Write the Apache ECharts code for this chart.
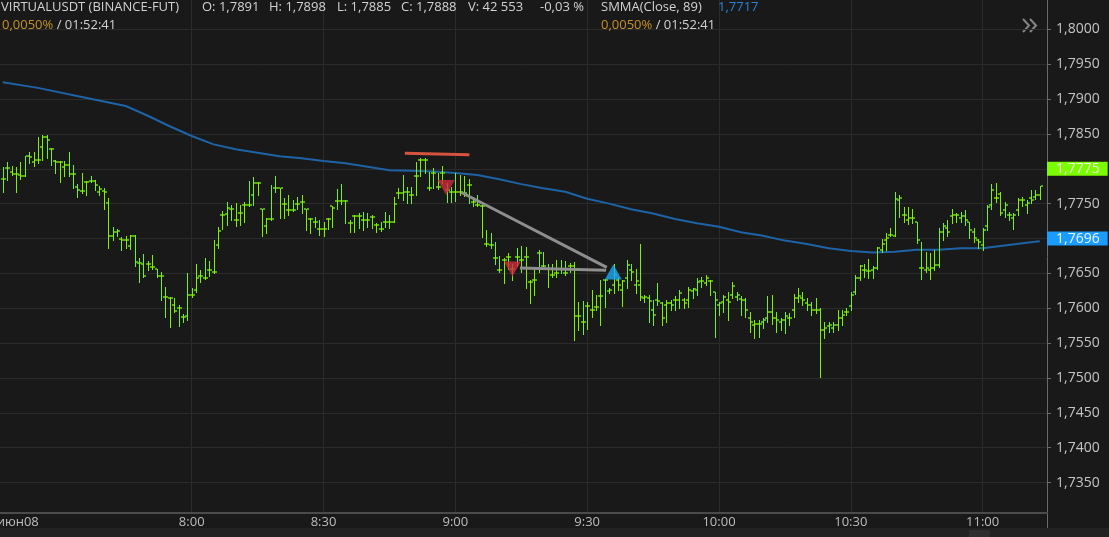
<!DOCTYPE html>
<html><head><meta charset="utf-8">
<script src="https://cdn.jsdelivr.net/npm/echarts@6/dist/echarts.min.js"></script>
<style>html,body{margin:0;padding:0;background:#191919;overflow:hidden}#c{width:1109px;height:537px}</style>
</head><body><div id="c"></div><script>
// ---------------- DATA ----------------
const firstBarMinute = 437; // 07:17, one bar per minute
const open = [1.7785,1.7801,1.7796,1.7793,1.7791,1.7790,1.7819,1.7810,1.7813,1.7831,1.7846,1.7828,1.7811,1.7810,1.7802,1.7806,1.7793,1.7774,1.7768,1.7781,
1.7782,1.7782,1.7767,1.7768,1.7751,1.7704,1.7709,1.7699,1.7698,1.7689,1.7704,1.7665,1.7664,1.7663,1.7659,1.7656,1.7646,1.7616,1.7615,1.7605,
1.7601,1.7587,1.7589,1.7619,1.7626,1.7646,1.7644,1.7655,1.7652,1.7691,1.7734,1.7735,1.7743,1.7727,1.7737,1.7748,1.7748,1.7762,1.7780,1.7742,
1.7718,1.7728,1.7772,1.7772,1.7749,1.7741,1.7741,1.7750,1.7753,1.7742,1.7728,1.7724,1.7713,1.7713,1.7728,1.7746,1.7754,1.7754,1.7754,1.7722,
1.7732,1.7732,1.7727,1.7727,1.7731,1.7719,1.7713,1.7724,1.7724,1.7724,1.7765,1.7765,1.7767,1.7762,1.7789,1.7813,1.7813,1.7772,1.7794,1.7774,
1.7794,1.7770,1.7767,1.7767,1.7767,1.7765,1.7777,1.7753,1.7748,1.7746,1.7692,1.7691,1.7672,1.7655,1.7669,1.7673,1.7656,1.7673,1.7669,1.7674,
1.7638,1.7641,1.7679,1.7661,1.7657,1.7648,1.7650,1.7657,1.7650,1.7660,1.7660,1.7589,1.7581,1.7603,1.7597,1.7602,1.7617,1.7641,1.7625,1.7633,
1.7641,1.7626,1.7644,1.7655,1.7633,1.7633,1.7615,1.7615,1.7597,1.7612,1.7608,1.7605,1.7608,1.7612,1.7612,1.7612,1.7612,1.7625,1.7626,1.7639,
1.7636,1.7639,1.7623,1.7605,1.7609,1.7612,1.7619,1.7616,1.7613,1.7612,1.7586,1.7576,1.7578,1.7580,1.7586,1.7595,1.7586,1.7580,1.7583,1.7586,
1.7597,1.7615,1.7615,1.7608,1.7605,1.7597,1.7597,1.7569,1.7575,1.7572,1.7576,1.7586,1.7595,1.7603,1.7623,1.7643,1.7655,1.7653,1.7655,1.7658,
1.7684,1.7698,1.7705,1.7704,1.7755,1.7734,1.7727,1.7730,1.7724,1.7658,1.7655,1.7655,1.7658,1.7662,1.7709,1.7715,1.7732,1.7734,1.7730,1.7732,
1.7723,1.7709,1.7698,1.7691,1.7718,1.7748,1.7758,1.7764,1.7741,1.7734,1.7730,1.7741,1.7755,1.7748,1.7758,1.7760,1.7762];
const high = [1.7802,1.7810,1.7804,1.7803,1.7810,1.7819,1.7824,1.7824,1.7845,1.7848,1.7849,1.7830,1.7813,1.7811,1.7811,1.7824,1.7806,1.7778,1.7794,1.7782,
1.7789,1.7784,1.7776,1.7772,1.7758,1.7716,1.7713,1.7702,1.7704,1.7705,1.7705,1.7672,1.7678,1.7668,1.7676,1.7657,1.7652,1.7630,1.7616,1.7614,
1.7605,1.7592,1.7650,1.7629,1.7663,1.7655,1.7672,1.7668,1.7698,1.7716,1.7740,1.7753,1.7748,1.7751,1.7748,1.7753,1.7783,1.7788,1.7781,1.7743,
1.7730,1.7777,1.7789,1.7773,1.7758,1.7762,1.7755,1.7760,1.7762,1.7743,1.7730,1.7731,1.7726,1.7724,1.7730,1.7747,1.7771,1.7778,1.7755,1.7727,
1.7734,1.7737,1.7738,1.7736,1.7734,1.7722,1.7724,1.7738,1.7734,1.7760,1.7772,1.7791,1.7774,1.7774,1.7810,1.7815,1.7815,1.7796,1.7801,1.7794,
1.7804,1.7779,1.7774,1.7794,1.7791,1.7790,1.7785,1.7759,1.7762,1.7748,1.7712,1.7708,1.7695,1.7675,1.7672,1.7679,1.7664,1.7686,1.7689,1.7688,
1.7641,1.7657,1.7684,1.7680,1.7664,1.7664,1.7669,1.7669,1.7668,1.7665,1.7667,1.7609,1.7611,1.7609,1.7626,1.7619,1.7641,1.7642,1.7629,1.7664,
1.7645,1.7641,1.7669,1.7664,1.7657,1.7692,1.7619,1.7619,1.7612,1.7636,1.7609,1.7612,1.7612,1.7617,1.7626,1.7614,1.7631,1.7629,1.7643,1.7645,
1.7648,1.7641,1.7624,1.7609,1.7619,1.7624,1.7638,1.7624,1.7617,1.7614,1.7595,1.7583,1.7583,1.7586,1.7617,1.7619,1.7595,1.7586,1.7595,1.7593,
1.7621,1.7629,1.7624,1.7614,1.7609,1.7614,1.7600,1.7581,1.7581,1.7581,1.7597,1.7597,1.7600,1.7624,1.7648,1.7662,1.7664,1.7670,1.7660,1.7688,
1.7699,1.7708,1.7715,1.7766,1.7762,1.7745,1.7745,1.7742,1.7724,1.7695,1.7681,1.7679,1.7684,1.7715,1.7722,1.7727,1.7743,1.7736,1.7738,1.7741,
1.7723,1.7715,1.7699,1.7715,1.7748,1.7778,1.7779,1.7766,1.7753,1.7738,1.7736,1.7758,1.7760,1.7755,1.7769,1.7770,1.7775];
const low = [1.7767,1.7784,1.7791,1.7767,1.7786,1.7789,1.7809,1.7804,1.7809,1.7813,1.7816,1.7806,1.7794,1.7781,1.7790,1.7790,1.7772,1.7759,1.7765,1.7763,
1.7781,1.7770,1.7762,1.7742,1.7687,1.7698,1.7703,1.7683,1.7686,1.7685,1.7661,1.7638,1.7645,1.7655,1.7657,1.7645,1.7612,1.7588,1.7573,1.7595,
1.7574,1.7581,1.7583,1.7616,1.7624,1.7638,1.7642,1.7646,1.7651,1.7687,1.7713,1.7719,1.7726,1.7718,1.7719,1.7724,1.7747,1.7748,1.7762,1.7704,
1.7708,1.7727,1.7767,1.7729,1.7729,1.7734,1.7740,1.7743,1.7736,1.7712,1.7708,1.7716,1.7705,1.7703,1.7713,1.7716,1.7743,1.7750,1.7722,1.7710,
1.7710,1.7715,1.7712,1.7716,1.7715,1.7710,1.7711,1.7716,1.7715,1.7723,1.7758,1.7755,1.7751,1.7751,1.7762,1.7789,1.7794,1.7770,1.7772,1.7771,
1.7779,1.7753,1.7753,1.7754,1.7762,1.7761,1.7751,1.7747,1.7746,1.7702,1.7689,1.7687,1.7663,1.7652,1.7636,1.7656,1.7641,1.7660,1.7652,1.7629,
1.7607,1.7619,1.7652,1.7660,1.7631,1.7645,1.7645,1.7650,1.7648,1.7652,1.7555,1.7569,1.7563,1.7570,1.7588,1.7597,1.7576,1.7602,1.7622,1.7622,
1.7626,1.7603,1.7629,1.7641,1.7622,1.7612,1.7609,1.7581,1.7576,1.7605,1.7576,1.7581,1.7598,1.7597,1.7600,1.7601,1.7602,1.7614,1.7619,1.7631,
1.7633,1.7619,1.7559,1.7590,1.7595,1.7583,1.7614,1.7612,1.7590,1.7588,1.7566,1.7558,1.7559,1.7571,1.7581,1.7578,1.7566,1.7569,1.7564,1.7576,
1.7588,1.7609,1.7605,1.7597,1.7590,1.7593,1.7502,1.7557,1.7566,1.7566,1.7569,1.7576,1.7590,1.7597,1.7621,1.7641,1.7645,1.7643,1.7643,1.7657,
1.7680,1.7684,1.7703,1.7703,1.7731,1.7723,1.7721,1.7722,1.7694,1.7642,1.7652,1.7642,1.7655,1.7659,1.7698,1.7704,1.7722,1.7723,1.7723,1.7719,
1.7701,1.7695,1.7687,1.7684,1.7712,1.7743,1.7753,1.7734,1.7731,1.7727,1.7713,1.7734,1.7746,1.7736,1.7751,1.7756,1.7756];
const close = [1.7785,1.7801,1.7793,1.7793,1.7789,1.7818,1.7817,1.7813,1.7813,1.7846,1.7841,1.7828,1.7810,1.7810,1.7806,1.7793,1.7793,1.7770,1.7768,1.7781,
1.7782,1.7777,1.7771,1.7767,1.7703,1.7710,1.7711,1.7698,1.7698,1.7704,1.7667,1.7665,1.7646,1.7663,1.7659,1.7646,1.7646,1.7616,1.7615,1.7596,
1.7601,1.7587,1.7619,1.7619,1.7644,1.7646,1.7644,1.7655,1.7652,1.7711,1.7734,1.7744,1.7743,1.7727,1.7737,1.7748,1.7748,1.7780,1.7780,1.7742,
1.7728,1.7728,1.7772,1.7772,1.7749,1.7741,1.7741,1.7750,1.7753,1.7742,1.7728,1.7724,1.7713,1.7713,1.7728,1.7744,1.7754,1.7754,1.7754,1.7722,
1.7732,1.7732,1.7727,1.7727,1.7731,1.7719,1.7713,1.7724,1.7724,1.7750,1.7765,1.7767,1.7767,1.7762,1.7789,1.7813,1.7813,1.7772,1.7794,1.7774,
1.7794,1.7770,1.7767,1.7767,1.7767,1.7765,1.7777,1.7753,1.7748,1.7746,1.7692,1.7691,1.7672,1.7655,1.7669,1.7673,1.7656,1.7673,1.7669,1.7674,
1.7638,1.7641,1.7679,1.7661,1.7657,1.7648,1.7650,1.7657,1.7650,1.7660,1.7589,1.7589,1.7581,1.7603,1.7597,1.7602,1.7617,1.7641,1.7626,1.7648,
1.7633,1.7639,1.7662,1.7652,1.7639,1.7616,1.7616,1.7610,1.7590,1.7610,1.7586,1.7608,1.7605,1.7612,1.7622,1.7608,1.7626,1.7628,1.7638,1.7639,
1.7643,1.7639,1.7612,1.7608,1.7616,1.7609,1.7632,1.7619,1.7612,1.7597,1.7580,1.7578,1.7578,1.7583,1.7595,1.7586,1.7583,1.7583,1.7589,1.7586,
1.7615,1.7618,1.7612,1.7605,1.7597,1.7597,1.7569,1.7572,1.7576,1.7576,1.7586,1.7590,1.7595,1.7619,1.7643,1.7661,1.7655,1.7653,1.7658,1.7686,
1.7692,1.7701,1.7705,1.7757,1.7758,1.7734,1.7730,1.7730,1.7698,1.7658,1.7658,1.7658,1.7662,1.7709,1.7718,1.7709,1.7734,1.7734,1.7732,1.7727,
1.7712,1.7701,1.7695,1.7712,1.7745,1.7770,1.7758,1.7737,1.7748,1.7734,1.7734,1.7755,1.7755,1.7751,1.7755,1.7762,1.7775];

// SMMA(Close, 89) (minute of day, value)
const smmaTimes = [437,445,455,465,470,475,480,485,490,495,500,505,510,515,520,525,530,535,540,545,550,555,560,565,570,575,580,585,590,595,600,605,610,615,620,625,630,635,640,645,650,655,660,665,670,673];
const smmaValues = [1.7924,1.7916,1.7903,1.7890,1.7876,1.7861,1.7847,1.7835,1.7828,1.7823,1.7818,1.7815,1.7811,1.7808,1.7803,1.7798,1.7797,1.7796,1.7794,1.7791,1.7785,1.7778,1.7772,1.7767,1.7757,1.7750,1.7742,1.7736,1.7728,1.7722,1.7717,1.7709,1.7704,1.7697,1.7692,1.7686,1.7682,1.7680,1.7681,1.7684,1.7684,1.7686,1.7686,1.7690,1.7694,1.7696];

// user drawings (minute of day, price)
const resistanceLine = [[528.5,1.78222],[543.2,1.78202]];
const diagonalLine = [[541.3,1.77663],[574.45,1.76587]];
const flatLine = [[554.7,1.76577],[574.3,1.76544]];
const sellSignals = [[537.9,1.77732],[553.0,1.76563]];
const buySignals = [[575.95,1.76520]];

// axes
const yTicks = [1.735,1.740,1.745,1.750,1.755,1.760,1.765,1.770,1.775,1.780,1.785,1.790,1.795,1.800];
const xTickMinutes = [480,510,540,570,600,630,660];
const xTickLabels = ['8:00','8:30','9:00','9:30','10:00','10:30','11:00'];
const dayLabelMinute = 440.4;
const dayLabel = 'июн08';
const xMin = 436.37, xMax = 674.65;
const yMin = 1.730642, yMax = 1.804201;

// header texts
const symbolText = 'VIRTUALUSDT (BINANCE-FUT)';
const ohlcvTexts = ['O: 1,7891','H: 1,7898','L: 1,7885','C: 1,7888','V: 42 553','-0,03 %'];
const fundingText = '0,0050%';
const timerText = ' / 01:52:41';
const smmaName = 'SMMA(Close, 89)';
const smmaHeaderValue = '1,7717';

// ---------------- CHART ----------------
const FONT = '"Open Sans", "DejaVu Sans", sans-serif';
const fmtP = v => v.toFixed(4).replace('.', ',');
const BAR = '#7cf400', TICK = '#5aa812';
const bars = open.map((o, i) => [firstBarMinute + i, o, high[i], low[i], close[i]]);
const lastClose = close[close.length - 1];
const lastSmma = smmaValues[smmaValues.length - 1];

const hdr = {color: '#d2d2d2', fontSize: 13, fontWeight: 'normal', fontFamily: FONT, lineHeight: 14};
const ohlcX = [202, 269, 337, 401, 468, 540];
const richLine2 = Object.assign({}, hdr, {rich: {o: {color: '#c99320', fontSize: 13, fontFamily: FONT}, w: {color: '#d2d2d2', fontSize: 13, fontFamily: FONT}}});
const titles = [
  {text: symbolText, left: 1, top: 0, padding: 0, textStyle: hdr},
  ...ohlcvTexts.map((t, i) => ({text: t, left: ohlcX[i], top: 0, padding: 0, textStyle: hdr})),
  {text: '{o|' + fundingText + '}{w|' + timerText + '}', left: 2, top: 18, padding: 0, textStyle: richLine2},
  {text: smmaName, left: 601, top: 0, padding: 0, textStyle: hdr},
  {text: smmaHeaderValue, left: 718, top: 0, padding: 0, textStyle: Object.assign({}, hdr, {color: '#2a82d8'})},
  {text: '{o|' + fundingText + '}{w|' + timerText + '}', left: 601, top: 18, padding: 0, textStyle: richLine2}
];

function renderOHLC(params, api) {
  const t = api.value(0);
  const pO = api.coord([t, api.value(1)]);
  const pH = api.coord([t, api.value(2)]);
  const pL = api.coord([t, api.value(3)]);
  const pC = api.coord([t, api.value(4)]);
  const x = Math.round(pO[0]) + 0.5;
  const yH = Math.round(pH[1]), yL = Math.round(pL[1]) + 1;
  const yO = Math.round(pO[1]), yC = Math.round(pC[1]);
  return {type: 'group', children: [
    {type: 'line', shape: {x1: x, y1: yH, x2: x, y2: yL}, style: {stroke: BAR, lineWidth: 1}},
    {type: 'line', shape: {x1: x - 2.5, y1: yO, x2: x - 0.5, y2: yO}, style: {stroke: TICK, lineWidth: 2}},
    {type: 'line', shape: {x1: x + 0.5, y1: yC, x2: x + 2.5, y2: yC}, style: {stroke: TICK, lineWidth: 2}}
  ]};
}

function priceTag(value, bg, fg) {
  return {yAxis: value,
    lineStyle: {color: 'rgba(0,0,0,0)', width: 0, type: 'solid'},
    label: {show: true, position: 'end', distance: 0, formatter: () => fmtP(value), backgroundColor: bg, color: fg,
      fontSize: 14, fontFamily: FONT, lineHeight: 14, padding: [0, 8, 0, 9], align: 'left', verticalAlign: 'middle'}};
}

const option = {
  backgroundColor: '#191919',
  animation: false,
  title: titles,
  grid: {left: 0, right: 62, top: 0, bottom: 24, containLabel: false, outerBoundsMode: 'none'},
  xAxis: {
    type: 'value', min: xMin, max: xMax, position: 'bottom',
    axisLine: {show: true, onZero: false, lineStyle: {color: '#4b4b4b', width: 2}},
    axisTick: {show: false, customValues: xTickMinutes},
    axisLabel: {customValues: [dayLabelMinute].concat(xTickMinutes), color: '#bdbdbd', fontSize: 13, fontFamily: FONT, margin: 3,
      formatter: v => { const i = xTickMinutes.indexOf(Math.round(v)); return i >= 0 && Math.abs(v - xTickMinutes[i]) < 0.01 ? xTickLabels[i] : dayLabel; }},
    splitLine: {show: true, lineStyle: {color: '#2b2b2b', width: 1}}
  },
  yAxis: {
    type: 'value', position: 'right', min: yMin, max: yMax,
    axisLine: {show: true, onZero: false, lineStyle: {color: '#6a6a6a', width: 1}},
    axisTick: {show: true, length: 4, customValues: yTicks, lineStyle: {color: '#6a6a6a'}},
    axisLabel: {customValues: yTicks, formatter: v => fmtP(v), color: '#c4c4c4', fontSize: 14, fontFamily: FONT, margin: 9},
    splitLine: {show: true, lineStyle: {color: '#2b2b2b', width: 1}}
  },
  series: [
    {type: 'line', data: smmaTimes.map((t, i) => [t, smmaValues[i]]), showSymbol: false, symbol: 'none',
     lineStyle: {color: '#1d63a6', width: 2}, z: 2, silent: true,
     markLine: {symbol: 'none', silent: true, animation: false, z: 10, data: [priceTag(lastSmma, '#1a9bff', '#eaf5ff')]}},
    {type: 'custom', renderItem: renderOHLC, data: bars, encode: {x: 0, y: [1, 2, 3, 4]}, z: 3, silent: true},
    {type: 'line', data: [[xMin, lastClose], [xMax, lastClose]], symbol: 'none', lineStyle: {width: 0, opacity: 0}, silent: true,
     markLine: {symbol: 'none', silent: true, animation: false, z: 10, data: [priceTag(lastClose, '#7cfc00', '#eaffd8')]}},
    {type: 'line', data: resistanceLine, symbol: 'none', lineStyle: {color: '#d5533f', width: 3}, z: 5, silent: true},
    {type: 'line', data: diagonalLine, symbol: 'none', lineStyle: {color: '#8e8e8e', width: 3}, z: 5, silent: true},
    {type: 'line', data: flatLine, symbol: 'none', lineStyle: {color: '#8e8e8e', width: 3}, z: 5, silent: true},
    {type: 'scatter', data: sellSignals, symbol: 'triangle', symbolRotate: 180, symbolSize: [17, 15],
     itemStyle: {color: '#cc2a3d'}, z: 6, silent: true},
    {type: 'scatter', data: buySignals, symbol: 'triangle', symbolSize: [17, 15],
     itemStyle: {color: '#19a9f5'}, z: 6, silent: true}
  ],
  graphic: [
    {type: 'rect', shape: {x: 0, y: 528, width: 1109, height: 9}, style: {fill: '#222222'}, silent: true},
    {type: 'rect', shape: {x: 969, y: 530, width: 21, height: 7}, style: {fill: '#2e2e2e'}, silent: true},
    {type: 'line', shape: {x1: 1047.5, y1: 513, x2: 1047.5, y2: 528}, style: {stroke: '#6a6a6a', lineWidth: 1}, silent: true},
    {type: 'polyline', shape: {points: [[1023, 19], [1029, 25.5], [1023, 32]]}, style: {stroke: '#858585', lineWidth: 2, fill: null}, silent: true},
    {type: 'polyline', shape: {points: [[1030, 19], [1036, 25.5], [1030, 32]]}, style: {stroke: '#858585', lineWidth: 2, fill: null}, silent: true}
  ]
};
const chart = echarts.init(document.getElementById('c'), null, {renderer: 'canvas', width: 1109, height: 537});
chart.setOption(option);
</script></body></html>
